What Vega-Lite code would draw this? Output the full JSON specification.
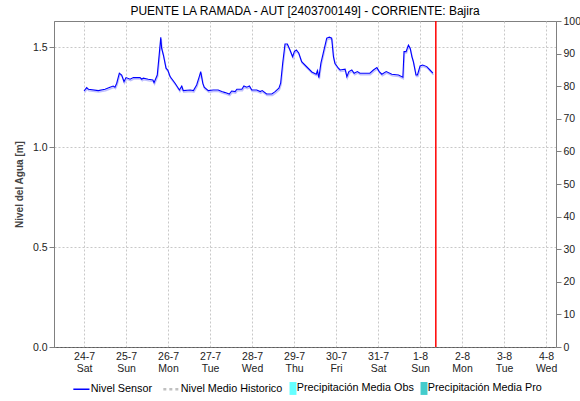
{
  "$schema": "https://vega.github.io/schema/vega-lite/v6.json",
  "autosize": {"type": "none"},
  "width": 502,
  "height": 326,
  "padding": {"left": 54, "top": 21, "right": 24, "bottom": 54},
  "config": {
    "font": "Liberation Sans",
    "view": {"stroke": "#808080", "strokeWidth": 1},
    "axis": {"labelFont": "Liberation Sans", "labelColor": "#222", "labelFontSize": 10.5, "gridColor": "#c8c8c8", "gridDash": [2, 2], "domainColor": "#808080", "tickColor": "#808080"}
  },
  "title": {"text": "PUENTE LA RAMADA - AUT [2403700149] - CORRIENTE: Bajira", "fontSize": 12, "fontWeight": "normal", "color": "#000", "font": "Liberation Sans", "offset": -2},
  "datasets": {
    "sensor": [
      {"t": "2021-07-24T00:00", "v": 1.28},
      {"t": "2021-07-24T01:30", "v": 1.297},
      {"t": "2021-07-24T02:30", "v": 1.289},
      {"t": "2021-07-24T08:10", "v": 1.282},
      {"t": "2021-07-24T12:00", "v": 1.289},
      {"t": "2021-07-24T14:50", "v": 1.299},
      {"t": "2021-07-24T16:40", "v": 1.305},
      {"t": "2021-07-24T17:40", "v": 1.299},
      {"t": "2021-07-24T18:40", "v": 1.319},
      {"t": "2021-07-24T20:10", "v": 1.369},
      {"t": "2021-07-24T21:30", "v": 1.36},
      {"t": "2021-07-24T22:50", "v": 1.327},
      {"t": "2021-07-25T00:00", "v": 1.347},
      {"t": "2021-07-25T02:20", "v": 1.339},
      {"t": "2021-07-25T04:10", "v": 1.347},
      {"t": "2021-07-25T08:00", "v": 1.347},
      {"t": "2021-07-25T09:00", "v": 1.339},
      {"t": "2021-07-25T09:50", "v": 1.344},
      {"t": "2021-07-25T12:40", "v": 1.339},
      {"t": "2021-07-25T15:20", "v": 1.335},
      {"t": "2021-07-25T16:00", "v": 1.322},
      {"t": "2021-07-25T17:50", "v": 1.36},
      {"t": "2021-07-25T18:50", "v": 1.452},
      {"t": "2021-07-25T19:50", "v": 1.549},
      {"t": "2021-07-25T20:20", "v": 1.494},
      {"t": "2021-07-25T21:20", "v": 1.46},
      {"t": "2021-07-25T22:50", "v": 1.394},
      {"t": "2021-07-25T23:50", "v": 1.385},
      {"t": "2021-07-26T01:10", "v": 1.352},
      {"t": "2021-07-26T04:00", "v": 1.319},
      {"t": "2021-07-26T06:30", "v": 1.285},
      {"t": "2021-07-26T07:50", "v": 1.305},
      {"t": "2021-07-26T08:40", "v": 1.282},
      {"t": "2021-07-26T12:40", "v": 1.285},
      {"t": "2021-07-26T14:30", "v": 1.282},
      {"t": "2021-07-26T16:20", "v": 1.31},
      {"t": "2021-07-26T17:50", "v": 1.352},
      {"t": "2021-07-26T18:40", "v": 1.377},
      {"t": "2021-07-26T19:50", "v": 1.319},
      {"t": "2021-07-26T20:40", "v": 1.299},
      {"t": "2021-07-26T23:00", "v": 1.282},
      {"t": "2021-07-27T01:50", "v": 1.285},
      {"t": "2021-07-27T04:40", "v": 1.285},
      {"t": "2021-07-27T06:40", "v": 1.277},
      {"t": "2021-07-27T08:40", "v": 1.272},
      {"t": "2021-07-27T11:00", "v": 1.265},
      {"t": "2021-07-27T12:20", "v": 1.28},
      {"t": "2021-07-27T14:20", "v": 1.277},
      {"t": "2021-07-27T15:20", "v": 1.289},
      {"t": "2021-07-27T18:10", "v": 1.289},
      {"t": "2021-07-27T19:20", "v": 1.305},
      {"t": "2021-07-27T21:00", "v": 1.299},
      {"t": "2021-07-27T22:30", "v": 1.305},
      {"t": "2021-07-27T23:50", "v": 1.285},
      {"t": "2021-07-28T02:40", "v": 1.285},
      {"t": "2021-07-28T04:40", "v": 1.277},
      {"t": "2021-07-28T05:50", "v": 1.282},
      {"t": "2021-07-28T08:20", "v": 1.265},
      {"t": "2021-07-28T11:20", "v": 1.265},
      {"t": "2021-07-28T13:10", "v": 1.277},
      {"t": "2021-07-28T15:20", "v": 1.294},
      {"t": "2021-07-28T16:20", "v": 1.319},
      {"t": "2021-07-28T17:30", "v": 1.419},
      {"t": "2021-07-28T18:50", "v": 1.515},
      {"t": "2021-07-28T20:10", "v": 1.515},
      {"t": "2021-07-28T21:40", "v": 1.485},
      {"t": "2021-07-28T23:10", "v": 1.452},
      {"t": "2021-07-29T00:10", "v": 1.477},
      {"t": "2021-07-29T01:20", "v": 1.485},
      {"t": "2021-07-29T02:40", "v": 1.47},
      {"t": "2021-07-29T04:20", "v": 1.427},
      {"t": "2021-07-29T07:20", "v": 1.4},
      {"t": "2021-07-29T10:10", "v": 1.375},
      {"t": "2021-07-29T12:40", "v": 1.364},
      {"t": "2021-07-29T13:20", "v": 1.382},
      {"t": "2021-07-29T14:10", "v": 1.347},
      {"t": "2021-07-29T15:20", "v": 1.419},
      {"t": "2021-07-29T16:40", "v": 1.469},
      {"t": "2021-07-29T18:40", "v": 1.544},
      {"t": "2021-07-29T20:10", "v": 1.549},
      {"t": "2021-07-29T21:30", "v": 1.544},
      {"t": "2021-07-29T22:30", "v": 1.452},
      {"t": "2021-07-29T23:20", "v": 1.419},
      {"t": "2021-07-30T01:20", "v": 1.394},
      {"t": "2021-07-30T02:20", "v": 1.385},
      {"t": "2021-07-30T05:10", "v": 1.389},
      {"t": "2021-07-30T06:10", "v": 1.352},
      {"t": "2021-07-30T07:20", "v": 1.377},
      {"t": "2021-07-30T09:00", "v": 1.385},
      {"t": "2021-07-30T10:20", "v": 1.369},
      {"t": "2021-07-30T12:10", "v": 1.377},
      {"t": "2021-07-30T13:40", "v": 1.369},
      {"t": "2021-07-30T19:20", "v": 1.369},
      {"t": "2021-07-30T21:20", "v": 1.385},
      {"t": "2021-07-30T23:20", "v": 1.397},
      {"t": "2021-07-31T00:40", "v": 1.377},
      {"t": "2021-07-31T02:10", "v": 1.364},
      {"t": "2021-07-31T04:40", "v": 1.377},
      {"t": "2021-07-31T07:50", "v": 1.364},
      {"t": "2021-07-31T11:40", "v": 1.36},
      {"t": "2021-07-31T14:10", "v": 1.349},
      {"t": "2021-07-31T14:50", "v": 1.477},
      {"t": "2021-07-31T16:00", "v": 1.477},
      {"t": "2021-07-31T17:20", "v": 1.51},
      {"t": "2021-07-31T18:20", "v": 1.494},
      {"t": "2021-07-31T19:20", "v": 1.452},
      {"t": "2021-07-31T20:10", "v": 1.427},
      {"t": "2021-07-31T21:40", "v": 1.36},
      {"t": "2021-07-31T22:30", "v": 1.36},
      {"t": "2021-08-01T00:00", "v": 1.405},
      {"t": "2021-08-01T01:30", "v": 1.41},
      {"t": "2021-08-01T03:50", "v": 1.402},
      {"t": "2021-08-01T05:40", "v": 1.385},
      {"t": "2021-08-01T07:20", "v": 1.369}
    ],
    "now": [{"t": "2021-08-01T09:00"}]
  },
  "resolve": {"scale": {"y": "independent"}},
  "layer": [
    {
      "data": {"name": "sensor"},
      "mark": {"type": "point", "opacity": 0},
      "encoding": {
        "x": {"field": "t", "type": "temporal"},
        "y": {"datum": 0, "type": "quantitative", "scale": {"domain": [0, 100], "nice": false}, "axis": {"orient": "right", "values": [0, 10, 20, 30, 40, 50, 60, 70, 80, 90, 100], "title": null, "grid": false, "tickSize": 5, "labelPadding": 2}}
      }
    },
    {
      "layer": [
        {
          "data": {"name": "sensor"},
          "mark": {"type": "line", "stroke": "#c0c0ff", "strokeWidth": 1.5, "yOffset": 1.5, "xOffset": 0.5},
          "encoding": {
            "x": {"field": "t", "type": "temporal"},
            "y": {"field": "v", "type": "quantitative"}
          }
        },
        {
          "data": {"name": "sensor"},
          "mark": {"type": "line", "strokeWidth": 1.1},
          "encoding": {
            "x": {
              "field": "t", "type": "temporal",
              "scale": {"domain": [{"year": 2021, "month": 7, "date": 23, "hours": 6, "minutes": 50}, {"year": 2021, "month": 8, "date": 4, "hours": 5, "minutes": 40}]},
              "axis": {"title": null, "tickCount": {"interval": "day", "step": 1}, "grid": true, "domainDash": [1, 1], "domainColor": "#333", "tickSize": 0, "labelPadding": 4, "labelLineHeight": 12, "labelFontSize": 10.5, "labelExpr": "[timeFormat(datum.value, '%-d-%-m'), timeFormat(datum.value, '%a')]"}
            },
            "y": {
              "field": "v", "type": "quantitative",
              "scale": {"domain": [0, 1.63], "nice": false, "zero": true},
              "axis": {"values": [0, 0.5, 1, 1.5], "format": ".1f", "grid": true, "tickSize": 5, "labelPadding": 2, "title": "Nivel del Agua [m]", "titleFontSize": 10, "titleFontWeight": "bold", "titleColor": "#444", "titlePadding": 8, "titleFont": "Liberation Sans"}
            },
            "color": {
              "datum": "Nivel Sensor",
              "scale": {"domain": ["Nivel Sensor", "Nivel Medio Historico", "Precipitación Media Obs", "Precipitación Media Pro"], "range": ["#0000ff", "#c0c0c0", "#66ffff", "#44cccc"]},
              "legend": {
                "orient": "none", "legendX": 22, "legendY": 362, "direction": "horizontal", "title": null,
                "labelFontSize": 10.8, "labelFont": "Liberation Sans", "labelColor": "#000",
                "symbolType": "stroke", "symbolSize": 260, "symbolStrokeWidth": 1.5, "labelOffset": 4, "columnPadding": 5,
                "encode": {
                  "symbols": {
                    "update": {
                      "shape": {"signal": "test(/Precip/, datum.label) ? 'M-0.43,-0.8H0.43V0.8H-0.43Z' : 'stroke'"},
                      "x": {"signal": "test(/Precip/, datum.label) ? 5 : datum.offset * 0.5"},
                      "fill": {"signal": "datum.label == 'Precipitación Media Obs' ? '#66ffff' : datum.label == 'Precipitación Media Pro' ? '#44cccc' : 'transparent'"},
                      "strokeDash": {"signal": "datum.label == 'Nivel Medio Historico' ? [3, 3] : [1, 0]"},
                      "strokeWidth": {"signal": "test(/Precip/, datum.label) ? 0 : (datum.label == 'Nivel Medio Historico' ? 2.5 : 1.5)"}
                    }
                  },
                  "labels": {
                    "update": {
                      "dx": {"signal": "test(/Precip/, datum.label) ? -6 : 0"}
                    }
                  }
                }
              }
            }
          }
        },
        {
          "data": {"name": "now"},
          "mark": {"type": "rule", "color": "#ff0000", "strokeWidth": 1.5},
          "encoding": {"x": {"field": "t", "type": "temporal"}}
        }
      ]
    }
  ]
}
